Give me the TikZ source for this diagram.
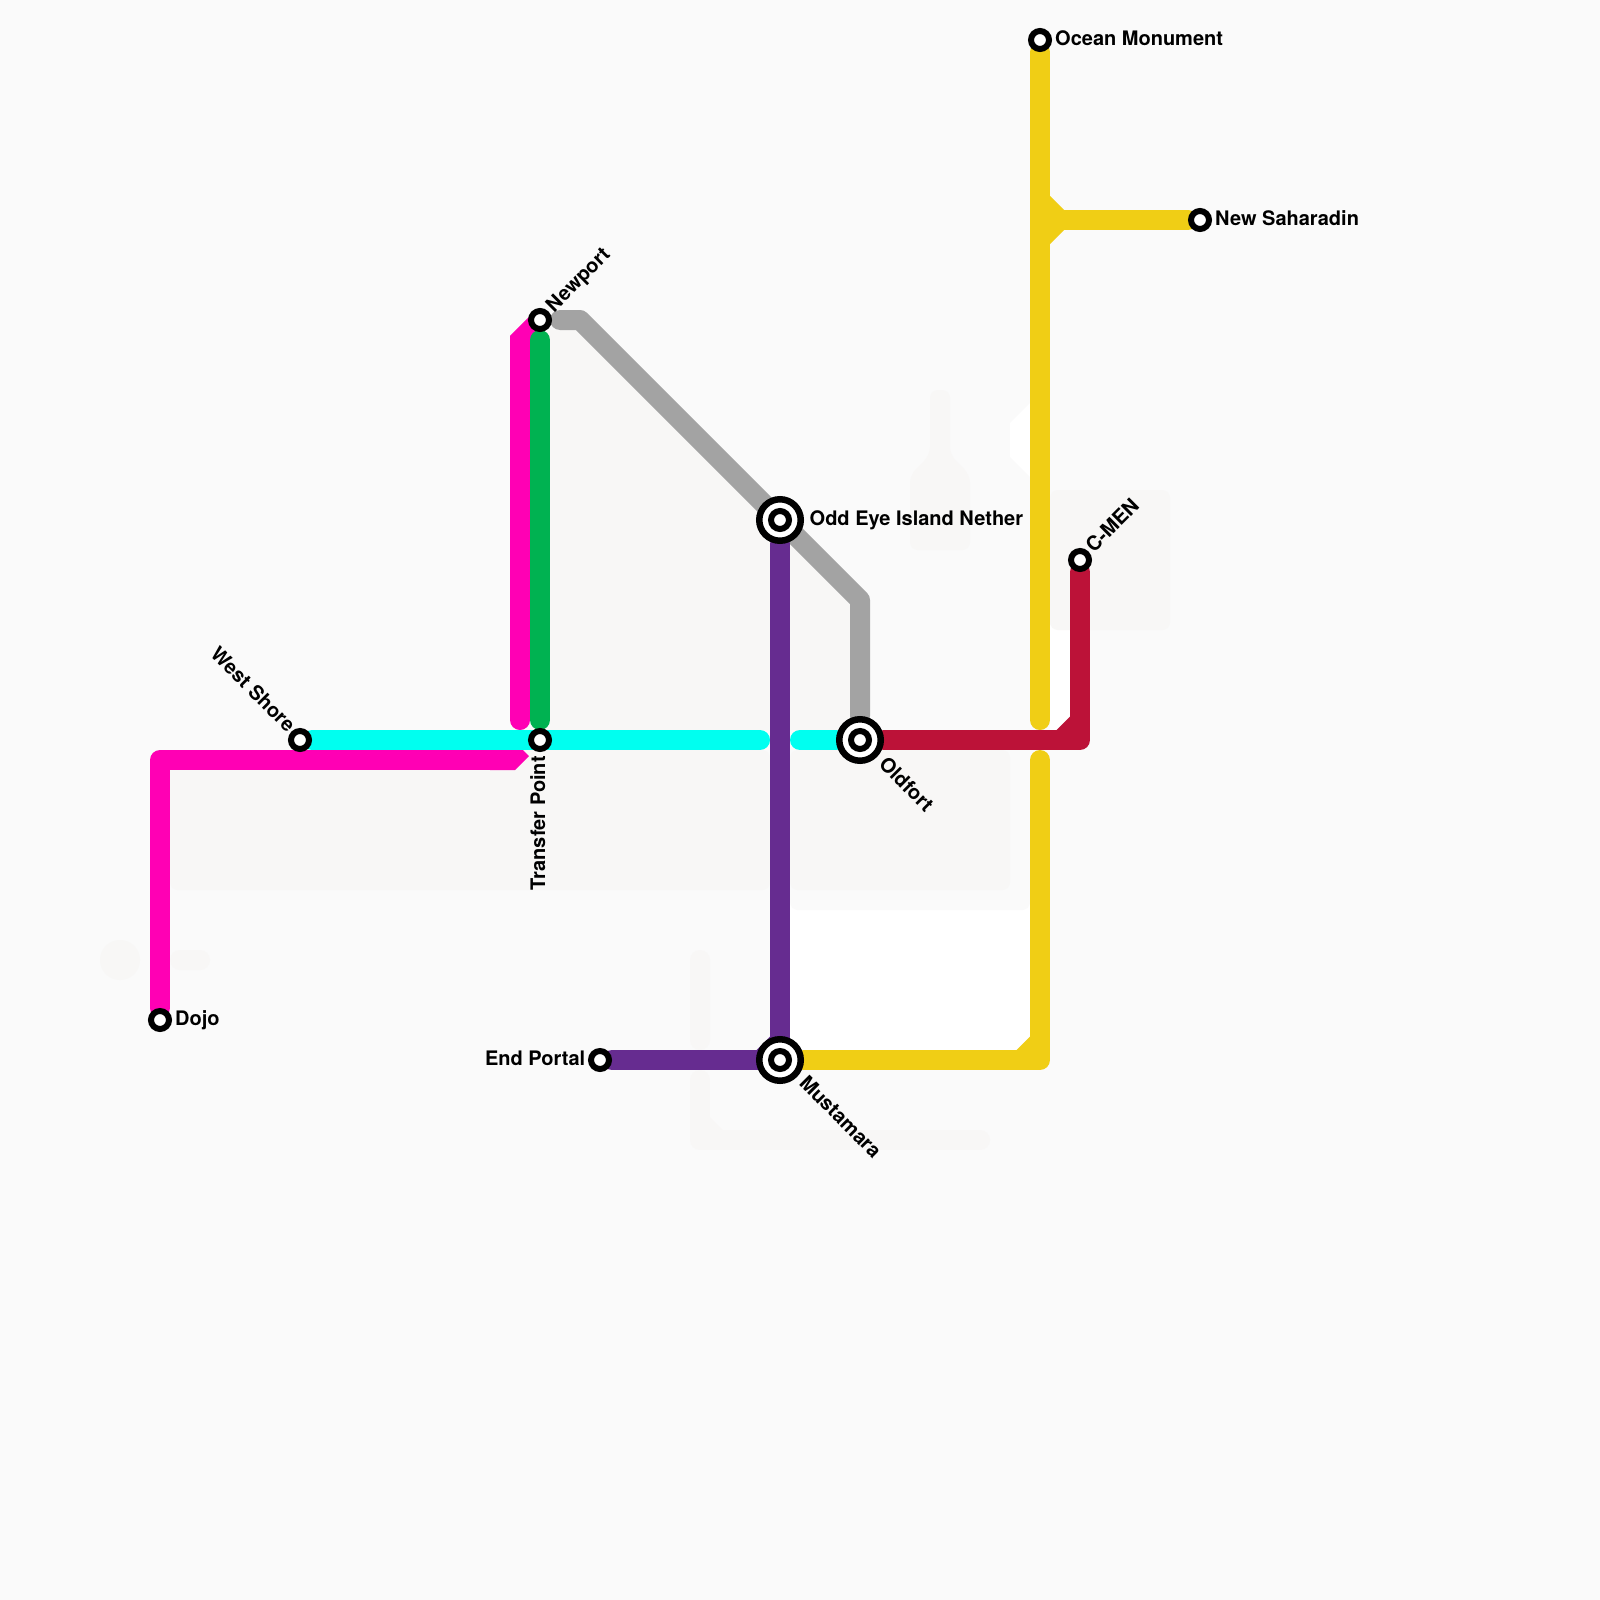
\documentclass[tikz,border=0pt]{standalone}
\usepackage{fontspec}
\setmainfont{TeX Gyre Heros}
\usepackage{xcolor}
\usetikzlibrary{positioning,calc,backgrounds}
\definecolor{pagebg}{RGB}{250, 250, 250}
\definecolor{groundpale}{RGB}{248, 247, 246}
\definecolor{linemagenta}{RGB}{255, 0, 180}
\definecolor{linegreen}{RGB}{0, 178, 81}
\definecolor{linecyan}{RGB}{0, 255, 240}
\definecolor{linegray}{RGB}{163, 163, 163}
\definecolor{linepurple}{RGB}{102, 44, 144}
\definecolor{lineyellow}{RGB}{240, 206, 21}
\definecolor{linered}{RGB}{188, 18, 56}

\begin{document}
\begin{tikzpicture}[
    x=1pt, y=-1pt,
    ground/.style={fill=groundpale, rounded corners=8pt},
    metro/.style={line width=20pt, line cap=round, line join=round},
    cutend/.style={line width=20pt, line cap=butt, line join=miter},
    stop/.style={circle, draw=black, fill=white, line width=6pt, inner sep=0pt, minimum size=18pt},
    interchange/.style={circle, draw=black, fill=white, line width=6.5pt, inner sep=0pt, minimum size=41.5pt,
        path picture={\draw[line width=6pt] (path picture bounding box.center) circle (9pt);}},
    stationlabel/.style={font=\fontsize{20}{24}\selectfont\bfseries, inner sep=0pt, text height=14pt, text depth=3pt}
]
\useasboundingbox (0,0) rectangle (1600,1600);

% Stations
\node[stop] (ocean) at (1040,40) {};
\node[stop] (saharadin) at (1200,220) {};
\node[stop] (newport) at (540,320) {};
\node[interchange] (oddeye) at (780,520) {};
\node[stop] (cmen) at (1080,560) {};
\node[stop] (westshore) at (300,740) {};
\node[stop] (transfer) at (540,740) {};
\node[interchange] (oldfort) at (860,740) {};
\node[stop] (dojo) at (160,1020) {};
\node[stop] (endportal) at (600,1060) {};
\node[interchange] (mustamara) at (780,1060) {};

% Line ends that stop short of a station
\coordinate (magentacap) at (520,720);
\coordinate (greentop) at (540,340);
\coordinate (greenbottom) at (540,720);
\coordinate (graycap) at (560,320);
\coordinate (cyanwest) at (760,740);
\coordinate (cyaneast) at (800,740);
\coordinate (yellowupper) at (1040,720);
\coordinate (yellowlower) at (1040,760);
\coordinate (yellowfork) at (1040,220);

% Labels
\node[stationlabel, right=3pt of ocean] (oceanlabel) {Ocean Monument};
\node[stationlabel, right=3pt of saharadin] (saharadinlabel) {New Saharadin};
\node[stationlabel, right=5.5pt of oddeye] (oddeyelabel) {Odd Eye Island Nether};
\node[stationlabel, right=3pt of dojo] (dojolabel) {Dojo};
\node[stationlabel, left=2.5pt of endportal] (endportallabel) {End Portal};
\node[stationlabel, anchor=west, rotate=45] (newportlabel) at ($(newport)+(10,-10.5)$) {Newport};
\node[stationlabel, anchor=west, rotate=45] (cmenlabel) at ($(cmen)+(10,-10.5)$) {C-MEN};
\node[stationlabel, anchor=west, rotate=-45] (oldfortlabel) at ($(oldfort)+(21.5,21.5)$) {Oldfort};
\node[stationlabel, anchor=west, rotate=-45] (mustamaralabel) at ($(mustamara)+(22,20.5)$) {Mustamara};
\node[stationlabel, anchor=east, rotate=-45] (westshorelabel) at ($(westshore)+(-9,-10.5)$) {West Shore};
\node[stationlabel, anchor=east, rotate=90] (transferlabel) at ($(transfer)+(-0.5,16)$) {Transfer Point};

\begin{scope}[on background layer]
% Ground
\fill[pagebg] (0,0) rectangle (1600,1600);
\fill[white] (790,890) rectangle (1030,1050);
\fill[white] (1050,625) rectangle (1070,730);
\fill[pagebg, rounded corners=8pt] (790,880) rectangle (1030,910);
\fill[white] (1040,403) -- (1030,403) -- (1010,423) -- (1010,457) -- (1030,477) -- (1040,477) -- cycle;
\fill[ground] (170,750) rectangle (770,890);
\fill[ground] (790,750) rectangle (1010,890);
\fill[groundpale] (550,330) -- (580,330) -- (770,520) -- (770,730) -- (550,730) -- cycle;
\fill[groundpale] (790,540) -- (850,600) -- (850,730) -- (790,730) -- cycle;
\fill[ground] (1050,490) rectangle (1170,630);
\fill[ground] (930,550) -- (910,550) -- (910,475) -- (930,455) -- (930,390) -- (950,390) -- (950,455) -- (970,475) -- (970,550) -- cycle;
\fill[groundpale] (120,960) circle (20pt);
\fill[groundpale, rounded corners=10pt] (170,950) rectangle (210,970);
\fill[groundpale, rounded corners=10pt] (690,950) rectangle (710,1050);
\draw[metro, groundpale] (700,1080) -- (700,1140) -- (980,1140);
\fill[groundpale] (710,1117) -- (723,1130) -- (710,1130) -- cycle;

% Lines
\draw[metro, linegray] (graycap) -- (580,320) -- (860,600) -- (oldfort);
\draw[metro, linemagenta, line join=miter] (magentacap) -- (520,340) -- (newport.center);
\draw[metro, linemagenta] (dojo) -- (160,760) -- (490,760);
\draw[cutend, linemagenta] (490,760) -- (511,760) -- (522,749);
\draw[metro, linecyan] (westshore) -- (cyanwest);
\draw[metro, linecyan] (cyaneast) -- (oldfort);
\draw[metro, linegreen] (greentop) -- (greenbottom);
\draw[metro, linepurple] (oddeye) -- (780,1060) -- (endportal);
\fill[linepurple] (756.7,1050) -- (770,1036.7) -- (770,1050) -- cycle;
\draw[metro, linered] (oldfort) -- (1080,740) -- (cmen);
\fill[linered] (1056.7,730) -- (1070,716.7) -- (1070,730) -- cycle;
\draw[metro, lineyellow] (ocean) -- (yellowupper);
\draw[metro, lineyellow] (yellowlower) -- (1040,1060) -- (mustamara);
\fill[lineyellow] (1016.7,1050) -- (1030,1036.7) -- (1030,1050) -- cycle;
\draw[metro, lineyellow] (yellowfork) -- (saharadin);
\fill[lineyellow] (1050,196) -- (1064,210) -- (1064,230) -- (1050,244) -- cycle;
\end{scope}

\end{tikzpicture}
\end{document}
